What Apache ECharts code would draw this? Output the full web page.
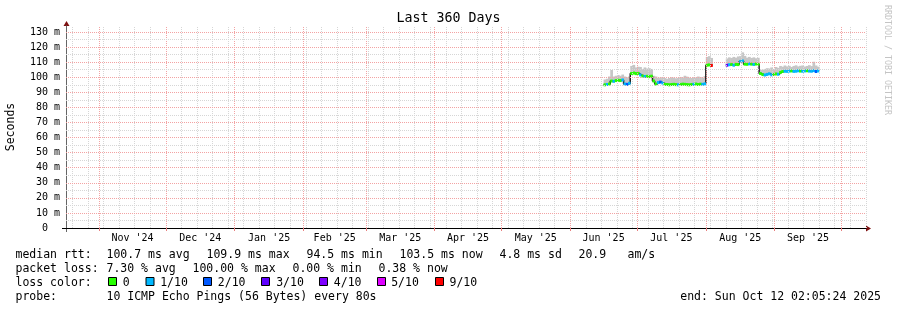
<!DOCTYPE html>
<html><head><meta charset="utf-8">
<script src="https://cdn.jsdelivr.net/npm/echarts@6/dist/echarts.min.js"></script>
<style>html,body{margin:0;padding:0;background:#fff}#c{width:897px;height:310px}</style>
</head><body><div id="c"></div>
<script>
// ---------- data ----------
const rangeStart = '2024-10-17T02:05:24Z';
const rangeEnd = '2025-10-12T02:05:24Z';
const monthStarts = ['2024-11-01','2024-12-01','2025-01-01','2025-02-01','2025-03-01','2025-04-01','2025-05-01','2025-06-01','2025-07-01','2025-08-01','2025-09-01','2025-10-01'];
const monthLabels = ["Nov '24","Dec '24","Jan '25","Feb '25","Mar '25","Apr '25","May '25","Jun '25","Jul '25","Aug '25","Sep '25"];
const firstSunday = '2024-10-20';
const yTickValues = [0,10,20,30,40,50,60,70,80,90,100,110,120,130];
const yTickLabels = ['0  ','10 m','20 m','30 m','40 m','50 m','60 m','70 m','80 m','90 m','100 m','110 m','120 m','130 m'];
const firstDay = '2025-06-16';   // one bin per day from here
const medianRtt = [
  95.0,95.2,95.5,97.5,97.3,97.8,98.0,97.8,98.2,95.5,95.3,96.0,
  102.5,102.8,102.4,102.6,101.5,100.8,100.5,100.6,100.4,100.7,
  97.5,95.5,96.5,96.8,96.2,95.3,95.2,95.0,95.2,95.3,95.1,95.0,95.2,95.4,95.3,95.1,95.0,95.2,95.3,95.5,95.2,95.4,95.3,95.6,
  108.0,108.2,107.8,
  null,null,null,null,null,null,
  108.0,108.3,108.5,108.0,108.6,108.4,110.5,110.8,108.7,108.6,108.9,108.7,108.5,108.8,108.6,
  102.5,101.8,101.5,101.9,102.3,101.6,101.8,102.2,102.0,103.2,103.8,104.0,103.9,104.1,104.2,103.9,104.0,104.3,104.1,104.0,104.2,104.3,104.1,104.0,104.4,103.8,104.2
];
const maxRtt = [
  98.5,99.0,100.5,104.8,100.5,101.0,101.5,101.0,101.8,100.5,100.0,100.5,
  107.5,108.2,106.5,107.0,106.8,105.5,106.5,105.8,106.0,105.5,
  101.0,100.5,99.5,99.8,100.2,99.5,99.0,99.5,100.0,99.8,99.3,99.6,100.2,99.8,101.0,100.4,99.8,99.5,100.0,99.8,100.5,100.2,99.6,100.8,
  113.5,114.0,112.8,
  null,null,null,null,null,null,
  112.5,113.2,112.8,113.5,113.0,113.8,114.0,116.5,114.2,113.0,113.5,112.8,113.2,112.6,112.9,
  105.0,104.8,105.5,106.0,105.8,106.5,105.5,106.8,106.2,107.5,107.0,107.8,107.2,107.6,106.8,107.5,107.9,107.2,107.6,107.8,107.1,107.5,108.0,107.4,110.3,107.8,107.0
];
const lossTenths = [
  0,1,0,0,1,0,0,0,1,1,2,1,
  0,0,0,0,1,0,1,0,0,0,
  0,0,1,2,1,0,0,0,0,0,0,1,0,0,0,0,0,0,1,0,0,0,1,1,
  0,0,9,
  null,null,null,null,null,null,
  3,1,0,1,0,0,1,1,0,0,1,0,1,0,0,
  0,0,1,1,1,1,0,0,1,0,0,1,1,1,0,1,1,1,0,1,1,0,1,1,1,2,1
];
const lossThresholds = [0,1,2,3,4,5,9];
const lossNames = ['0','1/10','2/10','3/10','4/10','5/10','9/10'];
const lossColors = ['#26ff00','#00b8ff','#0059ff','#5e00ff','#7e00ff','#dd00ff','#ff0000'];
const legendRtt = ['median rtt:','100.7 ms avg','109.9 ms max','94.5 ms min','103.5 ms now','4.8 ms sd','20.9','am/s'];
const legendLoss = ['packet loss:','7.30 % avg','100.00 % max','0.00 % min','0.38 % now'];
const probeText = ['probe:','10 ICMP Echo Pings (56 Bytes) every 80s'];
const endText = 'end: Sun Oct 12 02:05:24 2025';
const titleText = 'Last 360 Days';
const yName = 'Seconds';
const watermark = 'RRDTOOL / TOBI OETIKER';

// ---------- build ----------
const DAY = 86400000;
const tsOf = s => Date.parse(s.length === 10 ? s + 'T00:00:00Z' : s);
const T0 = tsOf(rangeStart), T1 = tsOf(rangeEnd);
const monthT = monthStarts.map(tsOf);
const labelT = monthLabels.map((_, i) => (monthT[i] + monthT[i + 1]) / 2);
const weekT = [];
for (let t = tsOf(firstSunday); t < T1; t += 7 * DAY) weekT.push(t);
const day0 = tsOf(firstDay);
const binT = medianRtt.map((_, i) => day0 + i * DAY);
const rows = [];
medianRtt.forEach((m, i) => { if (m != null) rows.push([binT[i], m, maxRtt[i], lossTenths[i]]); });
const lineData = medianRtt.map((m, i) => [binT[i], m == null ? '-' : m]);
function lossColor(l) { let c = lossColors[0]; lossThresholds.forEach((th, k) => { if (l >= th) c = lossColors[k]; }); return c; }

const GRAY = '#d6d6d6', RED = '#f3a3a3';
const vGrid = weekT.map(t => ({ xAxis: t, lineStyle: { color: GRAY } }))
  .concat(monthT.map(t => ({ xAxis: t, lineStyle: { color: RED } })));
const hGrid = [];
for (let v = 5; v <= 130; v += 5) hGrid.push({ yAxis: v, lineStyle: { color: v % 10 ? GRAY : RED } });

const MONO = '"DejaVu Sans Mono", monospace';
const GL = 66, GT = 26, GW = 800, GH = 202;

const graphics = [];
function txt(text, x, y, size, opts) {
  graphics.push(Object.assign({ type: 'text', x: x, y: y, silent: true,
    style: Object.assign({ text: text, font: size + 'px ' + MONO, fill: '#000', align: 'left', verticalAlign: 'middle' }, (opts && opts.style) || {}) },
    opts && opts.el || {}));
}
txt(titleText, 448.5, 19, 13.3, { style: { align: 'center' } });
txt(yName, 11, 127, 11.5, { style: { align: 'center' }, el: { rotation: Math.PI / 2 } });
txt(watermark, 887, 60, 8.3, { style: { align: 'center', fill: '#c4c4c4' }, el: { rotation: -Math.PI / 2 } });
const rowY = [255, 269, 283, 297];
const rttX = [16, 107, 207, 307, 400, 500, 579, 628];
legendRtt.forEach((s, i) => txt(s, rttX[i] - 0.5, rowY[0], 11.5));
const lossX = [16, 107, 193, 293, 379];
legendLoss.forEach((s, i) => txt(s, lossX[i] - 0.5, rowY[1], 11.5));
txt('loss color:', 15.5, rowY[2], 11.5);
const boxX = [108.5, 146, 203.5, 261.5, 319.5, 377.5, 435.5];
const boxLabelX = [123.3, 160.7, 218.3, 276.7, 334.3, 391.7, 450];
lossNames.forEach((s, i) => {
  graphics.push({ type: 'rect', silent: true, shape: { x: boxX[i], y: 277.5, width: 8, height: 8 }, style: { fill: lossColors[i], stroke: '#000', lineWidth: 1 } });
  txt(s, boxLabelX[i] - 0.5, rowY[2], 11.5);
});
txt(probeText[0], 15.5, rowY[3], 11.5);
txt(probeText[1], 106.5, rowY[3], 11.5);
txt(endText, 881, rowY[3], 11.5, { style: { align: 'right' } });
// axis extensions and arrows
graphics.push({ type: 'line', silent: true, shape: { x1: GL - 4, y1: GT + GH + 0.5, x2: GL, y2: GT + GH + 0.5 }, style: { stroke: '#000', lineWidth: 1 } });
graphics.push({ type: 'line', silent: true, shape: { x1: GL + 0.5, y1: GT + GH, x2: GL + 0.5, y2: GT + GH + 4 }, style: { stroke: '#666', lineWidth: 1 } });
graphics.push({ type: 'polygon', silent: true, shape: { points: [[GL - 2.5, GT], [GL + 3.5, GT], [GL + 0.5, GT - 5]] }, style: { fill: '#7d1010' } });
graphics.push({ type: 'polygon', silent: true, shape: { points: [[GL + GW, GT + GH - 2.5], [GL + GW, GT + GH + 3.5], [GL + GW + 5, GT + GH + 0.5]] }, style: { fill: '#7d1010' } });

const chart = echarts.init(document.getElementById('c'), null, { renderer: 'canvas', width: 897, height: 310 });
chart.setOption({
  animation: false,
  backgroundColor: '#fff',
  grid: { left: GL, top: GT, width: GW, height: GH, containLabel: false, outerBoundsMode: 'none' },
  xAxis: {
    type: 'value', min: T0, max: T1,
    axisLine: { show: true, lineStyle: { color: '#000', width: 1 } },
    axisTick: { show: true, customValues: monthT, length: 3, lineStyle: { color: '#e88080' } },
    axisLabel: { customValues: labelT, fontFamily: MONO, fontSize: 10, color: '#000', margin: 5,
      formatter: v => { const i = labelT.findIndex(x => Math.abs(x - v) < 1000); return i >= 0 ? monthLabels[i] : ''; } },
    splitLine: { show: false }, minorSplitLine: { show: false }
  },
  yAxis: {
    type: 'value', min: 0, max: 134, interval: 10,
    axisLine: { show: true, lineStyle: { color: '#666', width: 1 } },
    axisTick: { show: false },
    axisLabel: { fontFamily: MONO, fontSize: 10, color: '#000', margin: 6,
      formatter: v => { const i = yTickValues.indexOf(v); return i >= 0 ? yTickLabels[i] : ''; } },
    splitLine: { show: false }
  },
  series: [
    { type: 'line', data: [], z: 1, silent: true,
      markLine: { silent: true, symbol: ['none', 'none'], label: { show: false }, emphasis: { disabled: true }, animation: false,
        lineStyle: { type: [1, 1], width: 1, opacity: 1 }, data: vGrid.concat(hGrid) } },
    { type: 'custom', z: 2, silent: true, data: rows, encode: { x: 0, y: [1, 2] },
      renderItem: (params, api) => {
        const a = api.coord([api.value(0), api.value(2)]);
        const b = api.coord([api.value(0) + DAY, api.value(1)]);
        return { type: 'rect', shape: { x: a[0], y: a[1], width: b[0] - a[0] + 0.5, height: b[1] - a[1] }, style: { fill: '#c6c6c6' } };
      } },
    { type: 'line', z: 3, silent: true, data: lineData, step: 'end', showSymbol: false, symbol: 'none', connectNulls: false,
      lineStyle: { color: '#202020', width: 1.5 } },
    { type: 'custom', z: 4, silent: true, data: rows, encode: { x: 0, y: 1 },
      renderItem: (params, api) => {
        const a = api.coord([api.value(0), api.value(1)]);
        const b = api.coord([api.value(0) + DAY, api.value(1)]);
        return { type: 'rect', shape: { x: a[0], y: a[1] - 1.5, width: b[0] - a[0] + 0.3, height: 3 }, style: { fill: lossColor(api.value(3)) } };
      } }
  ],
  graphic: graphics
});
</script></body></html>
